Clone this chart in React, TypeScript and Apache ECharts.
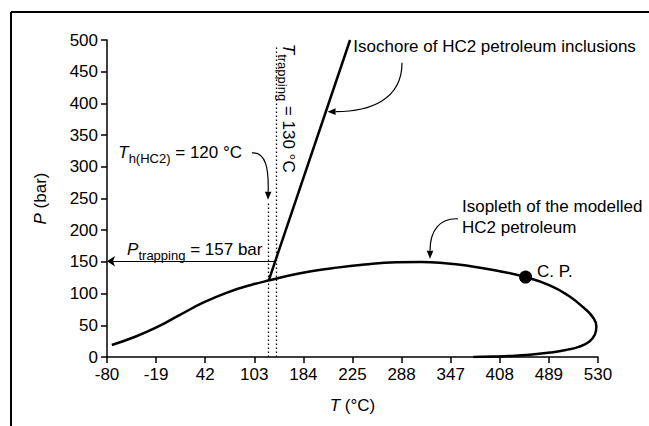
import React, { useEffect, useRef } from "react";
import * as echarts from "echarts";

// ---- data ----
const X_SHIFT = 80; // axis runs in shifted units so that min is a multiple of the interval
const xTickLabels = ["-80", "-19", "42", "103", "184", "225", "288", "347", "408", "489", "530"];
const xMin = -80;
const xMax = 530;
const xStep = 61;
const yMin = 0;
const yMax = 500;
const yStep = 50;

// isopleth of the modelled HC2 petroleum (T °C, P bar)
const isoplethT = [-74, -45, -18, 10, 40, 70, 100, 122, 160, 200, 240, 280, 310, 340, 370, 405, 440, 470, 493, 512, 524, 528, 526, 519, 506, 490, 470, 445, 420, 400, 375];
const isoplethP = [19, 32, 47, 66, 86, 102, 114, 121, 132, 140, 146, 149.5, 150, 148, 143.5, 136, 126, 113, 97, 78, 62, 48, 35, 24, 16, 11, 7, 3.5, 1.5, 0.6, 0];

// isochore of HC2 petroleum inclusions
const isochoreT = [121, 222];
const isochoreP = [121, 500];

// critical point
const cpT = [440];
const cpP = [126];

// reference temperatures / pressure
const thT = 120; // Th(HC2)
const ttrapT = 130; // T trapping
const ptrapP = 151; // P trapping line level
const ptrapT = 129; // where P trapping line meets the isochore

const FONT = "'Liberation Sans', Arial, Helvetica, sans-serif";

export default function App() {
  const ref = useRef<HTMLDivElement>(null);

  useEffect(() => {
    document.body.style.margin = "0";
    if (!ref.current) return;
    const chart = echarts.init(ref.current, undefined, { renderer: "svg" });
    const X = (t: number) => t + X_SHIFT;

    const isopleth = isoplethT.map((t, i) => [X(t), isoplethP[i]]);
    const isochore = isochoreT.map((t, i) => [X(t), isochoreP[i]]);
    const cp = cpT.map((t, i) => [X(t), cpP[i]]);

    const axisCommon = {
      axisLine: { show: true, lineStyle: { color: "#000", width: 1.5 } },
      axisTick: { show: true, length: 6, lineStyle: { color: "#000", width: 1.5 } },
      splitLine: { show: false },
    };

    const arrowLine = { color: "#000", width: 1.2, type: "solid" as const };

    chart.setOption({
      animation: false,
      grid: { left: 107, right: 51, top: 40, bottom: 69 },
      xAxis: {
        type: "value",
        min: X(xMin),
        max: X(xMax),
        interval: xStep,
        ...axisCommon,
        axisLabel: {
          color: "#000",
          fontSize: 17,
          fontFamily: FONT,
          margin: 9,
          formatter: (v: number) => xTickLabels[Math.round(v / xStep)] ?? "",
        },
        name: "{i|T} (°C)",
        nameLocation: "middle",
        nameGap: 40,
        nameTextStyle: {
          color: "#000",
          fontSize: 17,
          fontFamily: FONT,
          rich: { i: { fontStyle: "italic", fontSize: 17, fontFamily: FONT, color: "#000" } },
        },
      },
      yAxis: {
        type: "value",
        min: yMin,
        max: yMax,
        interval: yStep,
        ...axisCommon,
        axisLabel: { color: "#000", fontSize: 17, fontFamily: FONT, margin: 9 },
        name: "{i|P} (bar)",
        nameLocation: "middle",
        nameGap: 58,
        nameRotate: 90,
        nameTextStyle: {
          color: "#000",
          fontSize: 17,
          fontFamily: FONT,
          rich: { i: { fontStyle: "italic", fontSize: 17, fontFamily: FONT, color: "#000" } },
        },
      },
      series: [
        {
          type: "line",
          data: isopleth,
          smooth: 0.5,
          showSymbol: false,
          silent: true,
          lineStyle: { color: "#000", width: 2.5 },
          markLine: {
            silent: true,
            symbol: ["none", "arrow"],
            symbolSize: 8,
            label: { show: false },
            lineStyle: arrowLine,
            data: [
              [
                { coord: [X(thT), 0], symbol: "none", lineStyle: { color: "#000", width: 1.3, type: [1.5, 2.5] } },
                { coord: [X(thT), 245], symbol: "none" },
              ],
              [
                { coord: [X(ttrapT), 0], symbol: "none", lineStyle: { color: "#000", width: 1.3, type: [1.5, 2.5] } },
                { coord: [X(ttrapT), 490], symbol: "none" },
              ],
              [
                { coord: [X(ptrapT), ptrapP], lineStyle: arrowLine },
                { coord: [X(xMin), ptrapP] },
              ],
            ],
          },
        },
        {
          type: "line",
          data: isochore,
          showSymbol: false,
          silent: true,
          lineStyle: { color: "#000", width: 2.5 },
        },
        {
          type: "scatter",
          data: cp,
          symbolSize: 13,
          silent: true,
          itemStyle: { color: "#000", opacity: 1 },
          label: {
            show: true,
            position: "right",
            distance: 5,
            formatter: "C. P.",
            color: "#000",
            fontSize: 17,
            fontFamily: FONT,
            offset: [0, -6],
          },
        },
      ],
    });

    const px = (t: number, p: number) => chart.convertToPixel({ gridIndex: 0 }, [X(t), p]) as number[];
    const richBase = {
      i: { fontStyle: "italic", fontSize: 17, fontFamily: FONT, color: "#000", lineHeight: 20 },
      n: { fontSize: 17, fontFamily: FONT, color: "#000", lineHeight: 20 },
      s: { fontSize: 13, fontFamily: FONT, color: "#000", lineHeight: 24, verticalAlign: "bottom" },
    };

    // curved annotation arrow: start, two control points, tip (all in data coords)
    const curvedArrow = (pts: number[][]) => {
      const [p0, c1, c2, p3] = pts.map(([t, p]) => px(t, p));
      const dx = p3[0] - c2[0];
      const dy = p3[1] - c2[1];
      const len = Math.hypot(dx, dy) || 1;
      const ux = dx / len;
      const uy = dy / len;
      const L = 8;
      const W = 3.3;
      const bx = p3[0] - ux * L;
      const by = p3[1] - uy * L;
      return [
        {
          type: "bezierCurve",
          silent: true,
          shape: { x1: p0[0], y1: p0[1], cpx1: c1[0], cpy1: c1[1], cpx2: c2[0], cpy2: c2[1], x2: bx, y2: by },
          style: { stroke: "#000", lineWidth: 1.2, fill: null },
        },
        {
          type: "polygon",
          silent: true,
          shape: { points: [[p3[0], p3[1]], [bx - uy * W, by + ux * W], [bx + uy * W, by - ux * W]] },
          style: { fill: "#000", stroke: null },
        },
      ];
    };

    const a1 = px(226, 489);
    const a2 = px(-66, 322);
    const a3 = px(-55, 169);
    const a4 = px(145, 494);
    const a5 = px(361, 221);

    chart.setOption({
      graphic: [
        { type: "line", silent: true, shape: { x1: 11, y1: 12, x2: 649, y2: 12 }, style: { stroke: "#000", lineWidth: 2 } },
        { type: "line", silent: true, shape: { x1: 11, y1: 12, x2: 11, y2: 426 }, style: { stroke: "#000", lineWidth: 2 } },
        ...curvedArrow([[286.5, 464], [286.5, 405], [246, 387], [194, 387]]),
        ...curvedArrow([[100, 322], [117.5, 324], [121, 296], [thT, 248]]),
        ...curvedArrow([[356, 218], [334, 219.5], [321.3, 200], [321.3, 155]]),
        {
          type: "text",
          silent: true,
          x: a1[0],
          y: a1[1],
          style: { text: "Isochore of HC2 petroleum inclusions", fill: "#000", fontSize: 17, fontFamily: FONT, align: "left", verticalAlign: "middle" },
        },
        {
          type: "text",
          silent: true,
          x: a2[0],
          y: a2[1],
          style: { text: "{i|T}{s|h(HC2)}{n| = 120 °C}", rich: richBase, align: "left", verticalAlign: "middle" },
        },
        {
          type: "text",
          silent: true,
          x: a3[0],
          y: a3[1],
          style: { text: "{i|P}{s|trapping}{n| = 157 bar}", rich: richBase, align: "left", verticalAlign: "middle" },
        },
        {
          type: "text",
          silent: true,
          x: a4[0],
          y: a4[1],
          rotation: -Math.PI / 2,
          style: { text: "{i|T}{s|trapping}{n| = 130 °C}", rich: richBase, align: "left", verticalAlign: "middle" },
        },
        {
          type: "text",
          silent: true,
          x: a5[0],
          y: a5[1],
          style: {
            text: "Isopleth of the modelled\nHC2 petroleum",
            fill: "#000",
            fontSize: 17,
            fontFamily: FONT,
            lineHeight: 21,
            align: "left",
            verticalAlign: "middle",
          },
        },
      ],
    });

    return () => chart.dispose();
  }, []);

  return <div ref={ref} style={{ width: 649, height: 426 }} />;
}
